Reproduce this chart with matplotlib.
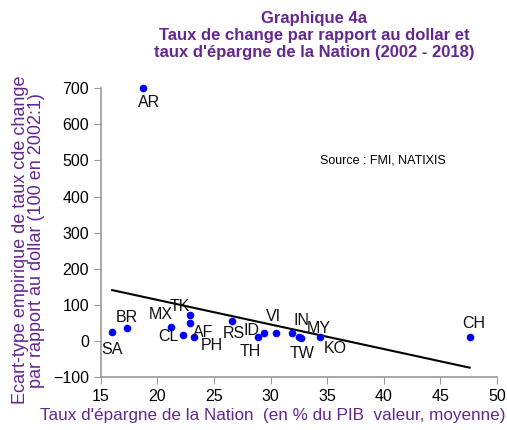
import matplotlib
matplotlib.use('Agg')
import matplotlib.pyplot as plt
import numpy as np

plt.rcParams['font.family'] = ['Liberation Sans', 'DejaVu Sans']

# données
pays = ['SA', 'BR', 'MX', 'CL', 'TK', 'AF', 'PH', 'RS', 'TH', 'ID',
        'VI', 'IN', 'TW', 'MY', 'KO', 'CH', 'AR']
epargne = [16.0, 17.3, 21.2, 22.3, 22.9, 22.9, 23.2, 26.6, 28.9, 29.4,
           30.5, 31.9, 32.5, 32.7, 34.4, 47.6, 18.7]
ecart_type = [26, 35, 40, 17, 72, 49, 12, 54, 12, 21,
              21, 21, 12, 7, 12, 12, 701]

# décalage des étiquettes (pixels)
decalage = {'SA': (0, -18), 'BR': (0, 11), 'MX': (-10, 12), 'CL': (-15, -2),
            'TK': (-10, 8), 'AF': (13, -9), 'PH': (18, -9), 'RS': (2, -12),
            'TH': (-8, -15), 'ID': (-12, 3), 'VI': (-3, 17), 'IN': (9, 13),
            'TW': (3, -17), 'MY': (18, 10), 'KO': (15, -12), 'CH': (4, 13),
            'AR': (6, -15)}

violet = '#64278F'

fig = plt.figure(figsize=(5.07, 4.30), dpi=100)
ax = fig.add_axes([0.199, 0.123, 0.781, 0.672])

ax.scatter(epargne, ecart_type, s=20, color='blue', edgecolor='blue', zorder=3, clip_on=False)

for p, x, y in zip(pays, epargne, ecart_type):
    dx, dy = decalage[p]
    ax.annotate(p, (x, y), xytext=(dx, dy), textcoords='offset pixels',
                ha='center', va='center', fontsize=11.5, color='#111111')

# droite de tendance linéaire
a, b = np.polyfit(epargne, ecart_type, 1)
xs = np.array([min(epargne), max(epargne)])
ax.plot(xs, a * xs + b, color='black', lw=1.5, zorder=2)

ax.set_xlim(15, 50)
ax.set_ylim(-100, 700)
ax.set_xticks(range(15, 51, 5))
ax.set_yticks(range(-100, 701, 100))
ax.tick_params(labelsize=11.5, colors='#999999', labelcolor='black', length=5)
for s in ['top', 'right']:
    ax.spines[s].set_visible(False)
for s in ['left', 'bottom']:
    ax.spines[s].set_color('#999999')
    ax.spines[s].set_linewidth(1.2)

ax.set_xlabel("Taux d'épargne de la Nation  (en % du PIB  valeur, moyenne)",
              color=violet, fontsize=12.3)
ax.xaxis.set_label_coords(0.434, -0.108)
ax.set_ylabel("Ecart-type empirique de taux cde change\npar rapport au dollar (100 en 2002:1)",
              color=violet, fontsize=13, linespacing=0.95)
ax.yaxis.set_label_coords(-0.14, 0.474)

ax.text(0.553, 0.75, 'Source : FMI, NATIXIS', transform=ax.transAxes,
        fontsize=9, color='black', va='center')

fig.text(0.62, 0.975, "Graphique 4a\nTaux de change par rapport au dollar et\ntaux d'épargne de la Nation (2002 - 2018)",
         ha='center', va='top', fontsize=12, fontweight='bold',
         color=violet, linespacing=1.17)

fig.savefig('out.png', dpi=100)
